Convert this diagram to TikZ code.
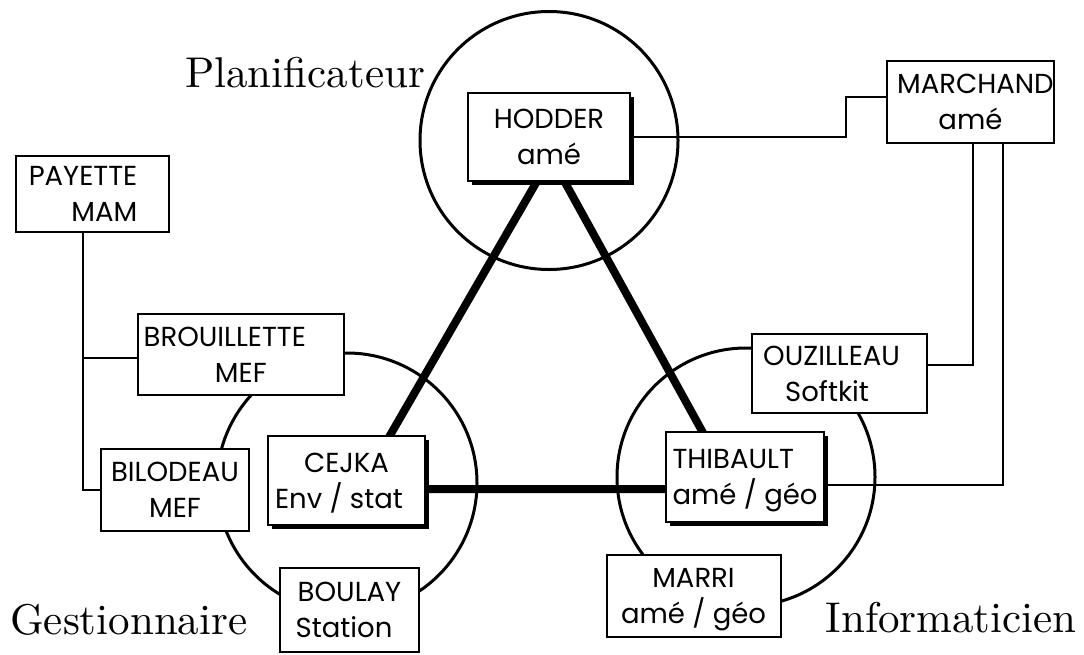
\documentclass[tikz,border=0pt]{standalone}
\usepackage{fontspec}
\usetikzlibrary{shadows}
\newfontfamily\boxfont{Poppins}
\newfontfamily\rolefont{lmroman10-regular.otf}
% last line of a box: keep descenders out of the vertical centring
\newcommand\nodepth[1]{\raisebox{0pt}[\height][0pt]{#1}}
\begin{document}
\begin{tikzpicture}[x=1pt,y=-1pt,
  wire/.style={line width=2pt},
  ring/.style={circle, draw, line width=3pt, inner sep=0pt},
  link/.style={line width=8pt},
  person/.style={draw, fill=white, line width=2pt, inner sep=0pt, align=center,
    font=\boxfont\fontsize{27.5}{36}\selectfont},
  core/.style={person, drop shadow={opacity=1, fill=black, shadow xshift=4pt, shadow yshift=-4pt}},
  role/.style={font=\rolefont\fontsize{43}{50}\selectfont, anchor=base west, inner sep=0pt}
]
\useasboundingbox (0,0) rectangle (1084,654);

% the three roles
\node[ring, minimum size=258] (cplan) at (549,140.5) {};
\node[ring, minimum size=260] (cgest) at (347,483) {};
\node[ring, minimum size=258] (cinfo) at (746,477) {};

\node[role] (lplan) at (185,87) {Planificateur};
\node[role] (lgest) at (10,634) {Gestionnaire};
\node[role] (linfo) at (825.4,632) {Informaticien};

% strong links between the three core people
\coordinate (tA) at (551,157);
\coordinate (tB) at (359,489);
\coordinate (tC) at (734,489);
\draw[link] (tA) -- (tB) -- (tC) -- cycle;

% people
\node[core, minimum width=162, minimum height=88] (hodder) at (549,137) {HODDER\\\nodepth{amé}};
\node[core, minimum width=157, minimum height=89] (cejka) at (346.5,480.5) {CEJKA\\\nodepth{Env / stat\hspace*{15pt}}};
\node[core, minimum width=158, minimum height=90, align=left] (thibault) at (745,477) {THIBAULT\\\nodepth{amé / géo}};

\node[person, minimum width=165, minimum height=82] (marchand) at (970.4,101.9) {\hspace*{10pt}MARCHAND\\\nodepth{amé}};
\node[person, minimum width=153, minimum height=76, align=right] (payette) at (92.5,194) {PAYETTE\hspace*{19pt}\\\nodepth{MAM\hspace*{19pt}}};
\node[person, minimum width=206, minimum height=81] (brouillette) at (240.8,354.5) {BROUILLETTE\hspace*{32pt}\\\nodepth{MEF}};
\node[person, minimum width=148, minimum height=82] (bilodeau) at (175,490) {BILODEAU\\\nodepth{MEF}};
\node[person, minimum width=139, minimum height=84] (boulay) at (349.5,610) {BOULAY\\\nodepth{Station\hspace*{11pt}}};
\node[person, minimum width=175, minimum height=79] (ouzilleau) at (839.1,373.5) {OUZILLEAU\hspace*{15pt}\\\nodepth{Softkit\hspace*{24pt}}};
\node[person, minimum width=174, minimum height=82] (marri) at (693.5,595.5) {MARRI\\\nodepth{amé / géo}};

% thin links
\coordinate (mjog) at (845.5,96.7);
\draw[wire] (hodder.east) -| (mjog) -- (mjog -| marchand.west);
\draw[wire] ([xshift=3pt]marchand.south) |- ([yshift=9pt]ouzilleau.east);
\draw[wire] ([xshift=32.4pt]marchand.south) |- ([yshift=-7.5pt]thibault.east);
\coordinate (ptrunk) at ([xshift=-9.5pt]payette.south);
\coordinate (bj) at (83,358);
\draw[wire] (ptrunk) |- (bilodeau.west);
\draw[wire] (bj) -- (bj -| brouillette.west);
\end{tikzpicture}
\end{document}
